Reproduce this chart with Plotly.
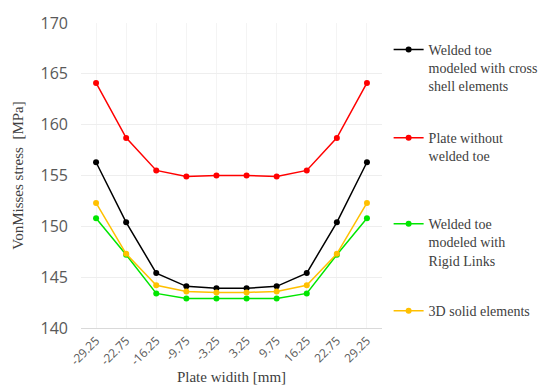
import plotly.graph_objects as go

categories = ["-29.25", "-22.75", "-16.25", "-9.75", "-3.25", "3.25", "9.75", "16.25", "22.75", "29.25"]
cross_shell = [156.3, 150.4, 145.4, 144.1, 143.9, 143.9, 144.1, 145.4, 150.4, 156.3]
no_weld = [164.1, 158.7, 155.5, 154.9, 155.0, 155.0, 154.9, 155.5, 158.7, 164.1]
rigid_links = [150.8, 147.2, 143.4, 142.9, 142.9, 142.9, 142.9, 143.4, 147.2, 150.8]
solid_3d = [152.3, 147.3, 144.2, 143.6, 143.5, 143.5, 143.6, 144.2, 147.3, 152.3]

series = [
    ("Welded toe<br>modeled with cross<br>shell elements", cross_shell, "#000000", "legend"),
    ("Plate without<br>welded toe", no_weld, "#ff0000", "legend2"),
    ("Welded toe<br>modeled with<br>Rigid Links", rigid_links, "#00e600", "legend3"),
    ("3D solid elements", solid_3d, "#ffc000", "legend4"),
]

fig = go.Figure()
for name, vals, color, lg in series:
    fig.add_trace(go.Scatter(
        x=categories, y=vals, name=name, mode="lines+markers",
        line=dict(color=color, width=1.5),
        marker=dict(color=color, size=6),
        legend=lg,
    ))

legfont = dict(family="Liberation Serif, Times New Roman, serif", size=14, color="#404040")
def leg(y):
    return dict(x=1.022, y=y, xanchor="left", yanchor="top", font=legfont,
                bgcolor="rgba(0,0,0,0)", valign="top", itemwidth=30, tracegroupgap=0)

fig.update_layout(
    width=557, height=388,
    margin=dict(l=73, r=183, t=15, b=68, autoexpand=False),
    paper_bgcolor="white", plot_bgcolor="white",
    showlegend=True,
    legend=leg(0.964),
    legend2=leg(0.675),
    legend3=leg(0.393),
    legend4=leg(0.108),
    xaxis=dict(
        type="category", range=[-0.5, 9.5], automargin=False,
        tickangle=-45, tickfont=dict(family="Open Sans, sans-serif", size=12, color="#595959"),
        showgrid=True, gridcolor="#f4f4f4",
        showline=True, linecolor="#d9d9d9", linewidth=1,
        ticks="",
        title=dict(text="Plate widith [mm]", font=dict(family="Liberation Serif, serif", size=15, color="#404040"), standoff=3),
    ),
    yaxis=dict(
        range=[140, 170], dtick=5, automargin=False,
        tickfont=dict(family="Open Sans, sans-serif", size=16, color="#595959"),
        showgrid=True, gridcolor="#eeeeee", zeroline=False,
        ticks="", ticklabelstandoff=12,
        title=dict(text="VonMisses stress  [MPa]", font=dict(family="Liberation Serif, serif", size=15, color="#404040"), standoff=13),
    ),
)

fig.write_html("out.html")
